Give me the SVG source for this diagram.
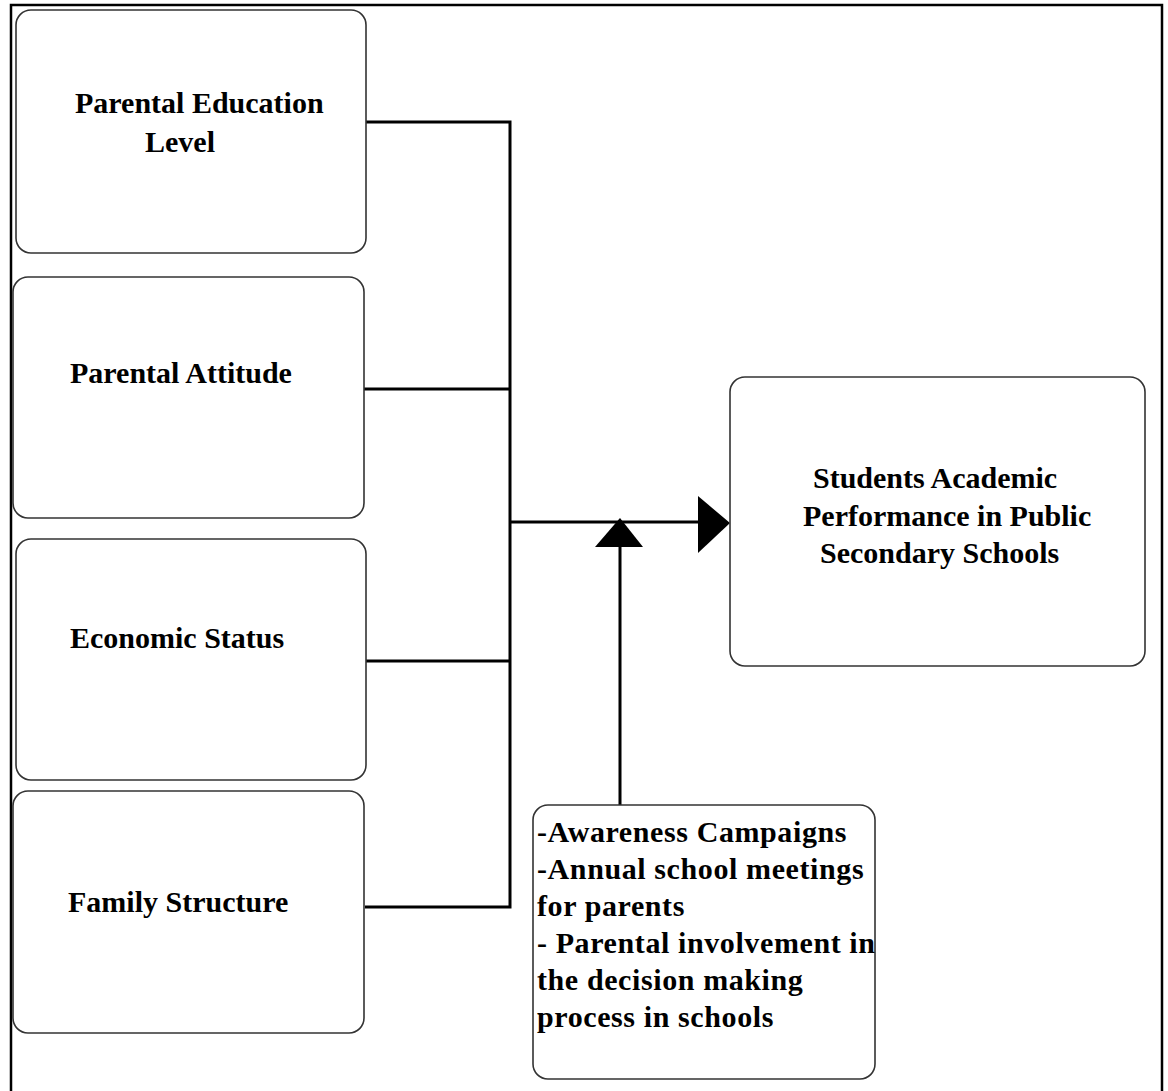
<svg xmlns="http://www.w3.org/2000/svg" width="1168" height="1091" viewBox="0 0 1168 1091">
<style>
.box{fill:#fff;stroke:#333;stroke-width:1.6}
.t{font-family:"Liberation Serif","Times New Roman",serif;font-weight:bold;font-size:30px;fill:#000}
.ls{letter-spacing:0.6px}
.con{fill:none;stroke:#000;stroke-width:3}
.head{fill:#000;stroke:none}
</style>
<rect width="1168" height="1091" fill="#fff"/>
<path d="M11,1091 V5 H1162 V1091" fill="none" stroke="#000" stroke-width="2.5"/>
<g id="connectors">
<path class="con" d="M366,122 H510 V907 H365"/>
<path class="con" d="M364,389 H510"/>
<path class="con" d="M366,661 H510"/>
<path class="con" d="M510,522 H700"/>
<polygon class="head" points="698,496 730,523 698,553"/>
<path class="con" d="M620,545 V805"/>
<polygon class="head" points="620,518 643,547 595,547"/>
</g>
<g id="node-education">
<rect class="box" x="16" y="10" width="350" height="243" rx="15"/>
<text class="t" x="75" y="113">Parental Education</text>
<text class="t" x="145" y="152">Level</text>
</g>
<g id="node-attitude">
<rect class="box" x="13" y="277" width="351" height="241" rx="15"/>
<text class="t" x="70" y="383">Parental Attitude</text>
</g>
<g id="node-economic">
<rect class="box" x="16" y="539" width="350" height="241" rx="15"/>
<text class="t" x="70" y="648">Economic Status</text>
</g>
<g id="node-family">
<rect class="box" x="13" y="791" width="351" height="242" rx="15"/>
<text class="t" x="68" y="912">Family Structure</text>
</g>
<g id="node-performance">
<rect class="box" x="730" y="377" width="415" height="289" rx="15"/>
<text class="t" x="813" y="488">Students Academic</text>
<text class="t" x="803" y="526">Performance in Public</text>
<text class="t" x="820" y="563">Secondary Schools</text>
</g>
<g id="node-interventions">
<rect class="box" x="533" y="805" width="342" height="274" rx="15"/>
<text class="t ls" x="537" y="842">-Awareness Campaigns</text>
<text class="t ls" x="537" y="879">-Annual school meetings</text>
<text class="t ls" x="537" y="916">for parents</text>
<text class="t ls" x="537" y="953">- Parental involvement in</text>
<text class="t ls" x="537" y="990">the decision making</text>
<text class="t ls" x="537" y="1027">process in schools</text>
</g>
</svg>
